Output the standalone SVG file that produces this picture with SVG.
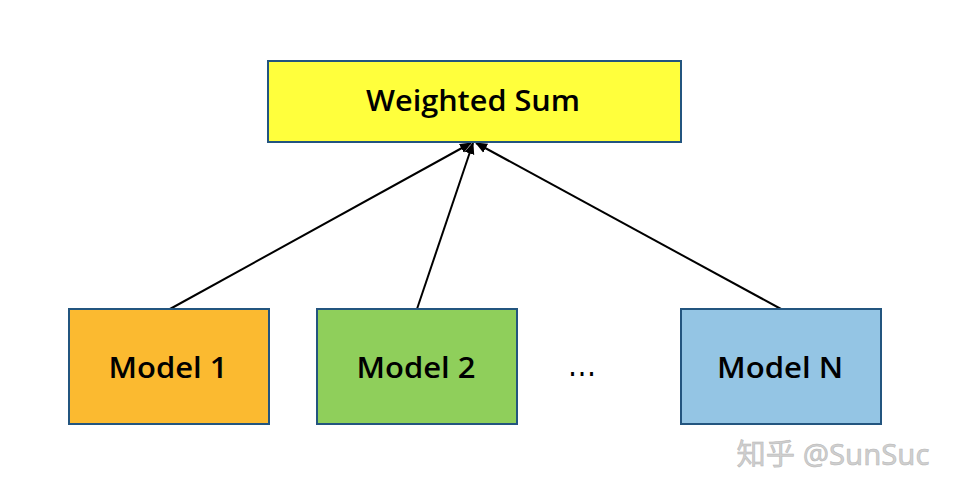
<svg xmlns="http://www.w3.org/2000/svg" width="954" height="494" viewBox="0 0 954 494">
<style>
.box{stroke:#23557f;stroke-width:2}
.lbl{font-family:"Open Sans","Noto Sans","Liberation Sans",sans-serif;font-weight:600;font-size:28px;fill:#000;text-anchor:middle}
.conn{stroke:#000;stroke-width:2;fill:none;marker-end:url(#ah)}
</style>
<defs>
<marker id="ah" markerWidth="12" markerHeight="12" refX="11" refY="6" orient="auto" markerUnits="userSpaceOnUse">
<path d="M0,1 L12,6 L0,11 Z" fill="#000"/>
</marker>
</defs>
<rect width="954" height="494" fill="#fff"/>
<g id="connectors">
<line class="conn" x1="170" y1="309" x2="471" y2="143"/>
<line class="conn" x1="417" y1="309" x2="473" y2="143"/>
<line class="conn" x1="781" y1="309" x2="476" y2="143"/>
</g>
<g id="weighted-sum">
<rect class="box" x="268" y="61" width="413" height="81" fill="#ffff3c"/>
<text class="lbl" x="473" y="111" textLength="214" lengthAdjust="spacingAndGlyphs">Weighted Sum</text>
</g>
<g id="model-1">
<rect class="box" x="69" y="309" width="200" height="115" fill="#fbba30"/>
<text class="lbl" x="168" y="378" textLength="119" lengthAdjust="spacingAndGlyphs">Model 1</text>
</g>
<g id="model-2">
<rect class="box" x="317" y="309" width="200" height="115" fill="#8fcf5b"/>
<text class="lbl" x="416" y="378" textLength="119" lengthAdjust="spacingAndGlyphs">Model 2</text>
</g>
<g id="ellipsis">
<text x="582" y="376" font-family="Liberation Sans, sans-serif" font-size="36" text-anchor="middle" textLength="30" lengthAdjust="spacingAndGlyphs">…</text>
</g>
<g id="model-n">
<rect class="box" x="681" y="309" width="200" height="115" fill="#94c5e4"/>
<text class="lbl" x="780" y="378" textLength="126" lengthAdjust="spacingAndGlyphs">Model N</text>
</g>
<text x="833" y="465" font-family="Noto Sans, Noto Sans CJK SC, sans-serif" font-size="29" fill="#cfcfcf" stroke="#b5b5b5" stroke-width="0.5" text-anchor="middle" textLength="193" lengthAdjust="spacingAndGlyphs">知乎 @SunSuc</text>
</svg>
